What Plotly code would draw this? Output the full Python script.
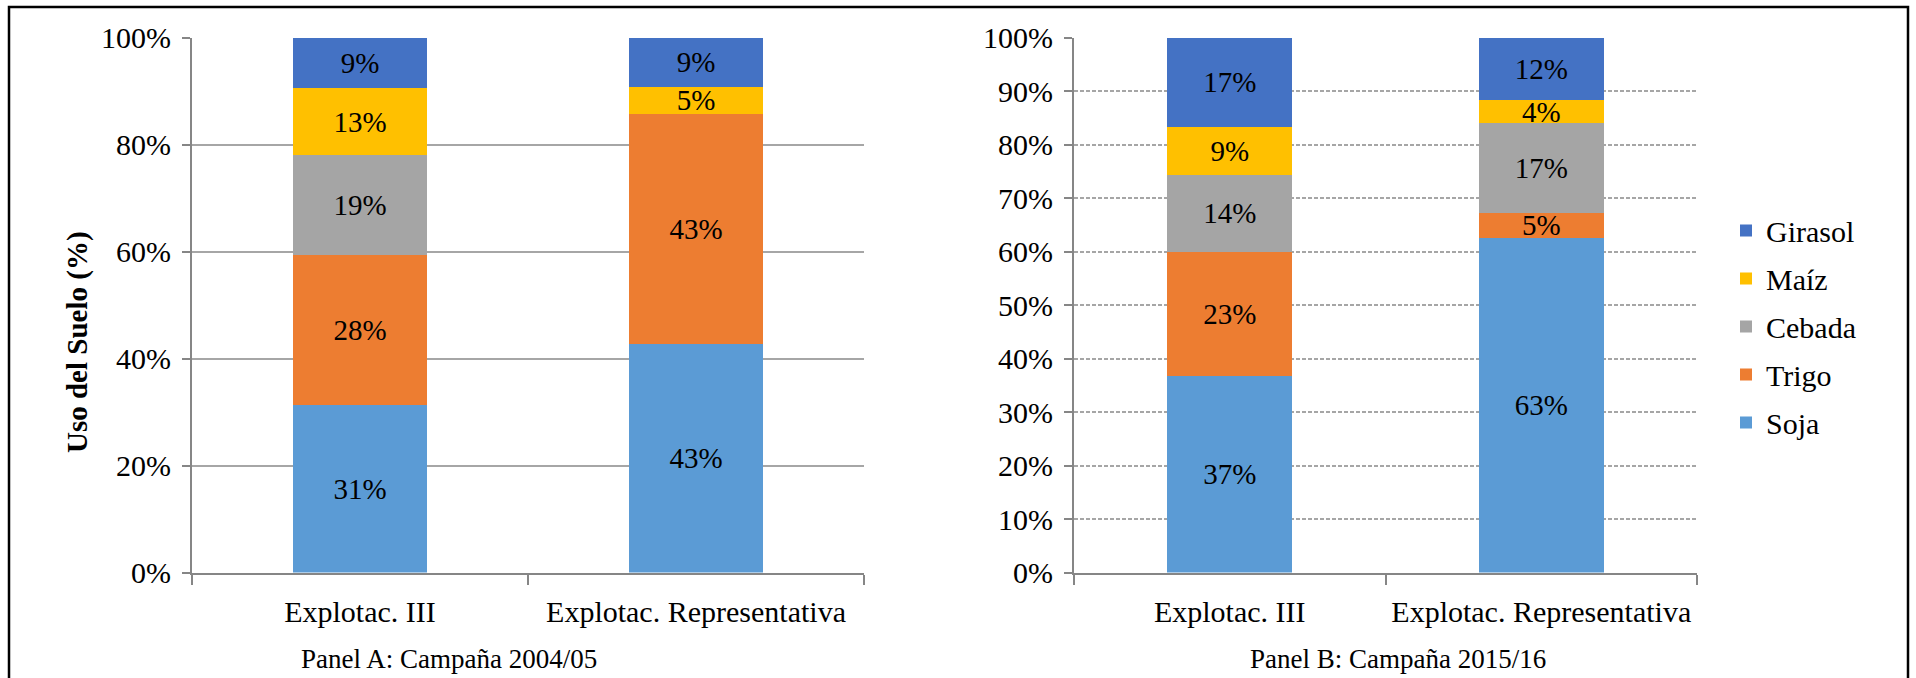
import plotly.graph_objects as go

W, H = 1916, 678

categories = ["Explotac. III", "Explotac. Representativa"]
crops = ["Soja", "Trigo", "Cebada", "Maíz", "Girasol"]
colors = {"Soja": "#5B9BD5", "Trigo": "#ED7D31", "Cebada": "#A5A5A5",
          "Maíz": "#FFC000", "Girasol": "#4472C4"}

# Panel A: Campaña 2004/05 (percent of land use)
soja_a = [31.3, 42.8]
trigo_a = [28.0, 43.0]
cebada_a = [18.7, None]
maiz_a = [12.6, 5.0]
girasol_a = [9.4, 9.2]

# Panel B: Campaña 2015/16
soja_b = [36.8, 62.6]
trigo_b = [23.2, 4.7]
cebada_b = [14.4, 16.8]
maiz_b = [8.9, 4.2]
girasol_b = [16.7, 11.7]

panel_a = {"Soja": soja_a, "Trigo": trigo_a, "Cebada": cebada_a, "Maíz": maiz_a, "Girasol": girasol_a}
panel_b = {"Soja": soja_b, "Trigo": trigo_b, "Cebada": cebada_b, "Maíz": maiz_b, "Girasol": girasol_b}

FONT = "Liberation Serif, Times New Roman, serif"
FS = 30
LBL = 29

fig = go.Figure()
for i, crop in enumerate(crops):
    for data, xa, ya, show in [(panel_a, "x", "y", False), (panel_b, "x2", "y2", True)]:
        vals = data[crop]
        fig.add_trace(go.Bar(
            x=categories, y=vals, name=crop, xaxis=xa, yaxis=ya,
            marker=dict(color=colors[crop], line=dict(width=0)),
            texttemplate="%{y:.0f}%",
            textposition="inside", insidetextanchor="middle", textangle=0,
            constraintext="none",
            textfont=dict(family=FONT, size=LBL, color="black"),
            insidetextfont=dict(family=FONT, size=LBL, color="black"),
            showlegend=show, legendgroup=crop, legendrank=len(crops) - i,
            hoverinfo="skip",
        ))

axis_common = dict(showline=True, linecolor="#868686", linewidth=2, automargin=False,
                   tickfont=dict(family=FONT, size=FS, color="black"))

def px_x(p):
    return p / W

def px_y(p):
    return 1 - p / H

fig.update_layout(
    width=W, height=H,
    margin=dict(l=0, r=0, t=0, b=0, autoexpand=False),
    paper_bgcolor="white", plot_bgcolor="white",
    barmode="stack", bargap=0.6,
    font=dict(family=FONT, size=FS, color="black"),
    xaxis=dict(domain=[px_x(192), px_x(864)], anchor="y", type="category",
               ticks="outside", tickson="boundaries", ticklen=10, tickcolor="#868686",
               tickwidth=2, ticklabelstandoff=11, **axis_common),
    yaxis=dict(domain=[px_y(572.5), px_y(37.7)], anchor="x", range=[0, 100], dtick=20,
               ticksuffix="%", showgrid=True, gridcolor="#A6A6A6", gridwidth=2,
               ticks="outside", ticklen=8, tickcolor="#868686", tickwidth=2,
               ticklabelstandoff=5, **axis_common),
    xaxis2=dict(domain=[px_x(1074), px_x(1697)], anchor="y2", type="category",
                ticks="outside", tickson="boundaries", ticklen=10, tickcolor="#868686",
                tickwidth=2, ticklabelstandoff=11, **axis_common),
    yaxis2=dict(domain=[px_y(572.5), px_y(37.7)], anchor="x2", range=[0, 100], dtick=10,
                ticksuffix="%", showgrid=True, gridcolor="#A6A6A6", gridwidth=1.5,
                griddash="4px,2px",
                ticks="outside", ticklen=8, tickcolor="#868686", tickwidth=2,
                ticklabelstandoff=5, **axis_common),
    legend=dict(x=px_x(1726), xanchor="left", y=px_y(326.5), yanchor="middle",
                traceorder="grouped", tracegroupgap=6,
                font=dict(family=FONT, size=30, color="black"),
                bgcolor="rgba(0,0,0,0)"),
    shapes=[dict(type="rect", xref="paper", yref="paper",
                 x0=px_x(9), x1=px_x(1908), y0=-0.05, y1=px_y(7),
                 line=dict(color="black", width=2.5), fillcolor="rgba(0,0,0,0)",
                 layer="above")],
    annotations=[
        dict(text="<b>Uso del Suelo (%)</b>", x=px_x(77), y=px_y(342), xref="paper", yref="paper",
             showarrow=False, xanchor="center", yanchor="middle", textangle=-90,
             font=dict(family=FONT, size=29, color="black")),
        dict(text="Panel A: Campaña 2004/05", x=px_x(449), y=px_y(659), xref="paper", yref="paper",
             showarrow=False, xanchor="center", yanchor="middle",
             font=dict(family=FONT, size=27, color="black")),
        dict(text="Panel B: Campaña 2015/16", x=px_x(1398), y=px_y(659), xref="paper", yref="paper",
             showarrow=False, xanchor="center", yanchor="middle",
             font=dict(family=FONT, size=27, color="black")),
    ],
)

fig.write_html("out.html")
